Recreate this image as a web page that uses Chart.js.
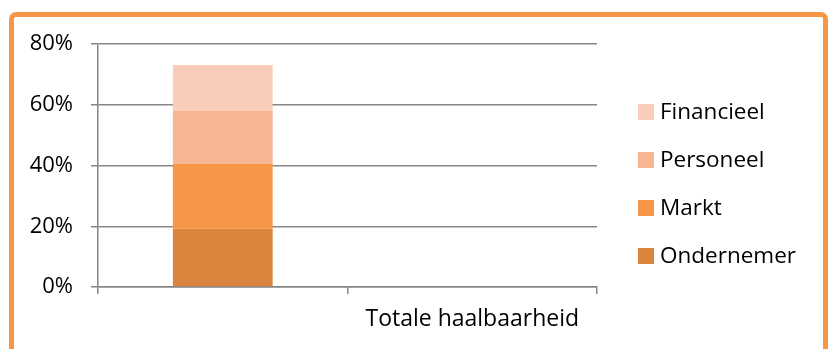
<!DOCTYPE html>
<html>
<head>
<meta charset="utf-8">
<script src="https://cdn.jsdelivr.net/npm/chart.js@4"></script>
<style>
    html, body { margin: 0; padding: 0; background: #fff; overflow: hidden; }
    #frame {
        position: absolute; left: 9px; top: 12px; width: 809px; height: 400px;
        border: 5px solid #f79646; border-radius: 7px;
    }
    #chart { position: absolute; left: 0; top: 0; }
</style>
</head>
<body>
<div id="frame"></div>
<canvas id="chart" width="830" height="349"></canvas>
<script>
// Categorieën en waarden (in procenten)
const categories = ['', 'Totale haalbaarheid'];
const seriesNames = ['Ondernemer', 'Markt', 'Personeel', 'Financieel'];
const ondernemer = [19.2, null];
const markt = [21.4, null];
const personeel = [17.4, null];
const financieel = [15.1, null];
const seriesColors = ['#db843d', '#f79646', '#f7b593', '#facdb8'];

const fontFamily = '"Open Sans", sans-serif';
const gridColor = '#868686';

// Legenda rechts, in omgekeerde volgorde (bovenste segment eerst)
const sideLegend = {
    id: 'sideLegend',
    afterDraw(chart) {
        const ctx = chart.ctx;
        const x = chart.chartArea.right + 41;
        let y = 112;
        ctx.save();
        ctx.font = '22.5px ' + fontFamily;
        ctx.textBaseline = 'middle';
        ctx.textAlign = 'left';
        chart.data.datasets.slice().reverse().forEach(ds => {
            ctx.fillStyle = ds.backgroundColor;
            ctx.fillRect(x, y - 8, 16, 16);
            ctx.fillStyle = '#000';
            ctx.fillText(ds.label, x + 22, y + 1);
            y += 48;
        });
        ctx.restore();
    }
};

const seriesData = [ondernemer, markt, personeel, financieel];

new Chart(document.getElementById('chart'), {
    type: 'bar',
    data: {
        labels: categories,
        datasets: seriesNames.map((name, i) => ({
            label: name,
            data: seriesData[i],
            backgroundColor: seriesColors[i],
            borderWidth: 0,
            barPercentage: 0.4,
            categoryPercentage: 1
        }))
    },
    options: {
        responsive: false,
        animation: false,
        layout: { padding: { top: 44, right: 233, bottom: 0, left: 0 } },
        plugins: {
            legend: { display: false },
            tooltip: { enabled: false }
        },
        scales: {
            x: {
                stacked: true,
                afterFit: s => { s.height = 62; },
                grid: {
                    drawOnChartArea: false,
                    offset: true,
                    color: gridColor,
                    lineWidth: 1.5,
                    tickLength: 7
                },
                border: { color: gridColor, width: 1.5 },
                ticks: {
                    color: '#000',
                    padding: 12,
                    maxRotation: 0,
                    font: { family: fontFamily, size: 23 }
                }
            },
            y: {
                stacked: true,
                min: 0,
                max: 80,
                afterFit: s => { s.width = 98; },
                grid: { color: gridColor, lineWidth: 1.5, tickLength: 7 },
                border: { color: gridColor, width: 1.5 },
                ticks: {
                    stepSize: 20,
                    color: '#000',
                    padding: 18,
                    font: { family: fontFamily, size: 22 },
                    callback: v => v + '%'
                }
            }
        }
    },
    plugins: [sideLegend]
});
</script>
</body>
</html>
